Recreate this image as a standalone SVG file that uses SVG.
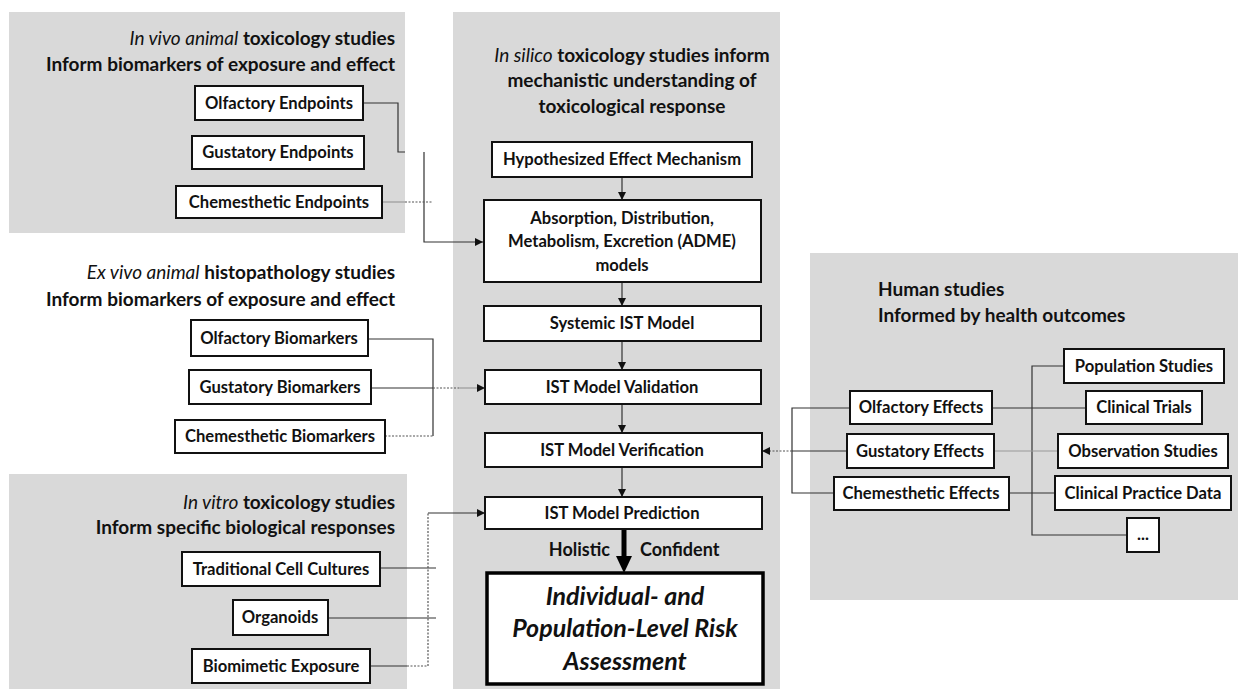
<svg xmlns="http://www.w3.org/2000/svg" width="1238" height="689" viewBox="0 0 1238 689">
<style>
.panel{fill:#d9d9d9}
.box{fill:#fff;stroke:#111;stroke-width:2}
.t{font-family:Lato,"Open Sans","Liberation Sans",sans-serif;font-weight:700;fill:#111}
.bt{font-size:16.6px;text-anchor:middle}
.hd{font-size:19px}
.c{fill:none;stroke:#333;stroke-width:1.2}
.d{fill:none;stroke:#555;stroke-width:1.2;stroke-dasharray:2 1.5}
.f{fill:none;stroke:#999;stroke-width:1.2}
</style>
<defs>
<marker id="ah" viewBox="0 0 10 10" refX="10" refY="5" markerWidth="8" markerHeight="8" orient="auto" markerUnits="userSpaceOnUse"><path d="M0,0L10,5L0,10z" fill="#111"/></marker>
</defs>
<g id="panels">
<rect class="panel" x="9" y="12" width="396" height="221"/>
<rect class="panel" x="453" y="12" width="327" height="677"/>
<rect class="panel" x="9" y="474" width="398" height="215"/>
<rect class="panel" x="810" y="253" width="428" height="347"/>
</g>
<g id="titles">
<text class="t hd" x="395" y="45" text-anchor="end"><tspan font-style="italic" font-weight="400">In vivo animal</tspan> toxicology studies</text>
<text class="t hd" x="395" y="71" text-anchor="end">Inform biomarkers of exposure and effect</text>
<text class="t hd" x="395" y="279" text-anchor="end"><tspan font-style="italic" font-weight="400">Ex vivo animal</tspan> histopathology studies</text>
<text class="t hd" x="395" y="306" text-anchor="end">Inform biomarkers of exposure and effect</text>
<text class="t hd" x="395" y="509" text-anchor="end"><tspan font-style="italic" font-weight="400">In vitro</tspan> toxicology studies</text>
<text class="t hd" x="395" y="534" text-anchor="end">Inform specific biological responses</text>
<text class="t hd" x="632" y="62" text-anchor="middle"><tspan font-style="italic" font-weight="400">In silico</tspan> toxicology studies inform</text>
<text class="t hd" x="632" y="87" text-anchor="middle">mechanistic understanding of</text>
<text class="t hd" x="632" y="113" text-anchor="middle">toxicological response</text>
<text class="t hd" x="878" y="296">Human studies</text>
<text class="t hd" x="878" y="322">Informed by health outcomes</text>
</g>
<g id="connectors">
<polyline class="c" points="363,103 398,103 398,152 405,152"/>
<polyline class="c" points="424,152 424,242 483,242" marker-end="url(#ah)"/>
<line class="f" x1="382" y1="202" x2="405" y2="202"/>
<line class="d" x1="405" y1="202" x2="432" y2="202"/>
<line class="c" x1="622" y1="177" x2="622" y2="200" marker-end="url(#ah)"/>
<line class="c" x1="622" y1="282" x2="622" y2="306" marker-end="url(#ah)"/>
<line class="c" x1="622" y1="341" x2="622" y2="370" marker-end="url(#ah)"/>
<line class="c" x1="622" y1="404" x2="622" y2="433" marker-end="url(#ah)"/>
<line class="c" x1="622" y1="467" x2="622" y2="497" marker-end="url(#ah)"/>
<polyline class="c" points="368,339 433,339 433,436"/>
<line class="d" x1="385" y1="436" x2="433" y2="436"/>
<line class="c" x1="371" y1="388" x2="433" y2="388"/>
<line class="d" x1="433" y1="388" x2="460" y2="388"/>
<line class="f" x1="460" y1="388" x2="485" y2="388" marker-end="url(#ah)"/>
<line class="c" x1="380" y1="568" x2="436" y2="568"/>
<line class="c" x1="328" y1="618" x2="436" y2="618"/>
<line class="c" x1="370" y1="666" x2="407" y2="666"/>
<polyline class="d" points="407,666 428,666 428,513"/>
<line class="c" x1="428" y1="513" x2="485" y2="513" marker-end="url(#ah)"/>
<path d="M624,529V558" stroke="#000" stroke-width="5" fill="none"/>
<path d="M616,556L632,556L624,573z" fill="#000"/>
<polyline class="c" points="850,408 792,408 792,493 834,493"/>
<line class="c" x1="847" y1="451" x2="792" y2="451"/>
<line class="d" x1="792" y1="451" x2="762" y2="451" marker-end="url(#ah)"/>
<polyline class="c" points="1064,366 1032,366 1032,535 1127,535"/>
<line class="c" x1="992" y1="408" x2="1086" y2="408"/>
<line class="f" x1="994" y1="451" x2="1058" y2="451"/>
<line class="c" x1="1009" y1="493" x2="1055" y2="493"/>
</g>
<g id="n-olf-end"><rect class="box" x="195" y="86" width="168" height="34"/><text class="t bt" x="279" y="109">Olfactory Endpoints</text></g>
<g id="n-gus-end"><rect class="box" x="192" y="136" width="172" height="33"/><text class="t bt" x="278" y="158">Gustatory Endpoints</text></g>
<g id="n-che-end"><rect class="box" x="176" y="186" width="206" height="32"/><text class="t bt" x="279" y="208">Chemesthetic Endpoints</text></g>
<g id="n-hyp"><rect class="box" x="492" y="142" width="260" height="35"/><text class="t bt" x="622" y="165">Hypothesized Effect Mechanism</text></g>
<g id="n-adme"><rect class="box" x="484" y="200" width="277" height="82"/><text class="t bt" x="622" y="224">Absorption, Distribution,</text><text class="t bt" x="622" y="247">Metabolism, Excretion (ADME)</text><text class="t bt" x="622" y="271">models</text></g>
<g id="n-sys"><rect class="box" x="484" y="306" width="277" height="35"/><text class="t bt" x="622" y="329">Systemic IST Model</text></g>
<g id="n-val"><rect class="box" x="485" y="370" width="276" height="34"/><text class="t bt" x="622" y="393">IST Model Validation</text></g>
<g id="n-ver"><rect class="box" x="485" y="433" width="277" height="34"/><text class="t bt" x="622" y="456">IST Model Verification</text></g>
<g id="n-pred"><rect class="box" x="485" y="497" width="277" height="32"/><text class="t bt" x="622" y="519">IST Model Prediction</text></g>
<g id="labels"><text class="t" font-size="18" x="610" y="556" text-anchor="end">Holistic</text><text class="t" font-size="18" x="640" y="556">Confident</text></g>
<g id="n-risk"><rect x="487" y="573" width="276" height="111" fill="#fff" stroke="#000" stroke-width="3.5"/><text class="t" font-size="25" font-style="italic" text-anchor="middle" x="625" y="605">Individual- and</text><text class="t" font-size="25" font-style="italic" text-anchor="middle" x="625" y="637">Population-Level Risk</text><text class="t" font-size="25" font-style="italic" text-anchor="middle" x="625" y="670">Assessment</text></g>
<g id="n-olf-bio"><rect class="box" x="191" y="320" width="177" height="36"/><text class="t bt" x="279" y="344">Olfactory Biomarkers</text></g>
<g id="n-gus-bio"><rect class="box" x="189" y="370" width="182" height="34"/><text class="t bt" x="280" y="393">Gustatory Biomarkers</text></g>
<g id="n-che-bio"><rect class="box" x="175" y="420" width="210" height="33"/><text class="t bt" x="280" y="442">Chemesthetic Biomarkers</text></g>
<g id="n-cell"><rect class="box" x="182" y="552" width="198" height="34"/><text class="t bt" x="281" y="575">Traditional Cell Cultures</text></g>
<g id="n-org"><rect class="box" x="233" y="600" width="95" height="35"/><text class="t bt" x="280" y="623">Organoids</text></g>
<g id="n-bio"><rect class="box" x="192" y="649" width="178" height="34"/><text class="t bt" x="281" y="672">Biomimetic Exposure</text></g>
<g id="n-olf-eff"><rect class="box" x="850" y="391" width="142" height="33"/><text class="t bt" x="921" y="413">Olfactory Effects</text></g>
<g id="n-gus-eff"><rect class="box" x="847" y="434" width="147" height="34"/><text class="t bt" x="920" y="457">Gustatory Effects</text></g>
<g id="n-che-eff"><rect class="box" x="834" y="477" width="175" height="33"/><text class="t bt" x="921" y="499">Chemesthetic Effects</text></g>
<g id="n-pop"><rect class="box" x="1064" y="349" width="160" height="34"/><text class="t bt" x="1144" y="372">Population Studies</text></g>
<g id="n-ct"><rect class="box" x="1086" y="391" width="116" height="33"/><text class="t bt" x="1144" y="413">Clinical Trials</text></g>
<g id="n-obs"><rect class="box" x="1058" y="434" width="170" height="34"/><text class="t bt" x="1143" y="457">Observation Studies</text></g>
<g id="n-cpd"><rect class="box" x="1055" y="476" width="176" height="34"/><text class="t bt" x="1143" y="499">Clinical Practice Data</text></g>
<g id="n-more"><rect class="box" x="1127" y="518" width="32" height="34"/><text class="t bt" x="1143" y="540">...</text></g>
</svg>
